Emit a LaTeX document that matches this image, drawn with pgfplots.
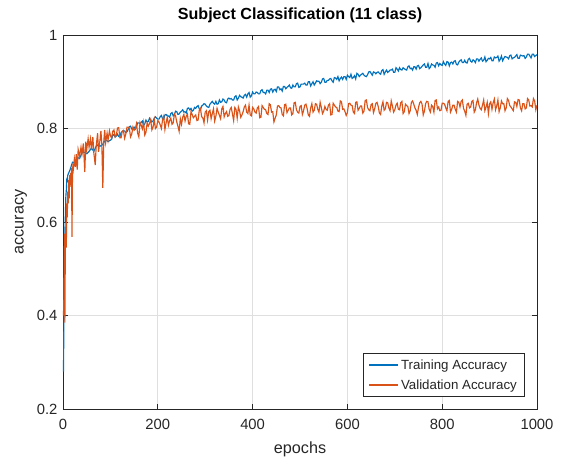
\documentclass[border=0pt]{standalone}
\usepackage{pgfplots}
\pgfplotsset{compat=1.18}
\usepackage{fontspec}
\setmainfont{Liberation Sans}
\definecolor{mblue}{RGB}{0,114,189}
\definecolor{morange}{RGB}{217,83,25}
\definecolor{maxis}{RGB}{38,38,38}
\definecolor{mgrid}{RGB}{223,223,223}
\begin{document}
\begin{tikzpicture}[x=1pt,y=1pt]
\useasboundingbox (0,0) rectangle (570,460);
\begin{axis}[
  at={(63pt,51pt)}, anchor=south west,
  scale only axis, width=474pt, height=374pt,
  xmin=0, xmax=1000, ymin=0.2, ymax=1,
  xtick={0,200,400,600,800,1000},
  xticklabels={0,200,400,600,800,1000},
  ytick={0.2,0.4,0.6,0.8,1},
  yticklabels={0.2,0.4,0.6,0.8,1},
  grid=major,
  major grid style={mgrid, line width=0.7pt},
  axis line style={maxis, line width=0.8pt},
  tick style={maxis, line width=0.8pt},
  tick align=inside, major tick length=5pt,
  xtick pos=both, ytick pos=both,
  tick label style={font=\fontsize{14.8}{16}\selectfont, text=maxis},
  xticklabel style={yshift=-7pt},
  yticklabel style={xshift=-2pt},
  xlabel={epochs}, ylabel={accuracy},
  label style={font=\fontsize{16.2}{18}\selectfont, text=maxis},
  xlabel style={at={(axis description cs:0.5,0)}, anchor=center, yshift=-40pt},
  ylabel style={at={(axis description cs:0,0.5)}, anchor=center, yshift=42pt},
  title={Subject Classification (11 class)},
  title style={font=\bfseries\fontsize{16.1}{18}\selectfont, text=black,
    at={(axis description cs:0.5,1)}, anchor=center, yshift=14pt},
  legend style={at={(0.973,0.032)}, anchor=south east, draw=maxis, line width=0.7pt,
    font=\fontsize{13.3}{15}\selectfont, row sep=5pt, inner xsep=5pt, inner ysep=4pt,
    text=maxis},
  legend cell align=left,
  legend image code/.code={\draw[#1, line width=1.3pt] (0pt,0pt) -- (29pt,0pt);},
]
\addplot[mblue, line width=1.15pt] coordinates {
(1,0.280)(2,0.395)(3,0.505)(4,0.575)(5,0.615)(6,0.655)(7,0.668)(8,0.690)(9,0.688)
(10,0.700)(15,0.712)(20,0.728)(25,0.727)(30,0.738)(35,0.736)(40,0.748)(45,0.749)(50,0.746)
(55,0.751)(60,0.758)(65,0.751)(70,0.762)(75,0.766)(80,0.762)(85,0.768)(90,0.776)(95,0.772)
(100,0.775)(102.5,0.777)(105,0.785)(107.5,0.787)(110,0.782)(112.5,0.784)(115,0.788)(117.5,0.783)
(120,0.783)(122.5,0.791)(125,0.794)(127.5,0.795)(130,0.795)(132.5,0.791)(135,0.793)(137.5,0.798)
(140,0.804)(142.5,0.805)(145,0.799)(147.5,0.800)(150,0.803)(152.5,0.799)(155,0.804)(157.5,0.812)
(160,0.812)(162.5,0.810)(165,0.813)(167.5,0.816)(170,0.806)(172.5,0.810)(175,0.818)(177.5,0.814)
(180,0.815)(182.5,0.822)(185,0.818)(187.5,0.814)(190,0.816)(192.5,0.822)(195,0.825)(197.5,0.822)
(200,0.820)(202.5,0.820)(205,0.825)(207.5,0.828)(210,0.821)(212.5,0.820)(215,0.829)(217.5,0.830)
(220,0.827)(222.5,0.827)(225,0.824)(227.5,0.832)(230,0.834)(232.5,0.827)(235,0.830)(237.5,0.837)
(240,0.836)(242.5,0.830)(245,0.831)(247.5,0.835)(250,0.837)(252.5,0.840)(255,0.835)(257.5,0.836)
(260,0.833)(262.5,0.843)(265,0.844)(267.5,0.840)(270,0.843)(272.5,0.837)(275,0.839)(277.5,0.845)
(280,0.843)(282.5,0.847)(285,0.849)(287.5,0.842)(290,0.840)(292.5,0.848)(295,0.850)(297.5,0.853)
(300,0.852)(302.5,0.848)(305,0.846)(307.5,0.845)(310,0.852)(312.5,0.855)(315,0.858)(317.5,0.854)
(320,0.852)(322.5,0.858)(325,0.852)(327.5,0.853)(330,0.861)(332.5,0.856)(335,0.857)(337.5,0.863)
(340,0.861)(342.5,0.856)(345,0.855)(347.5,0.863)(350,0.865)(352.5,0.863)(355,0.864)(357.5,0.861)
(360,0.861)(362.5,0.868)(365,0.870)(367.5,0.861)(370,0.865)(372.5,0.871)(375,0.868)(377.5,0.867)
(380,0.865)(382.5,0.871)(385,0.873)(387.5,0.867)(390,0.874)(392.5,0.877)(395,0.867)(397.5,0.870)
(400,0.878)(402.5,0.874)(405,0.874)(407.5,0.878)(410,0.877)(412.5,0.874)(415,0.874)(417.5,0.881)
(420,0.883)(422.5,0.877)(425,0.877)(427.5,0.874)(430,0.882)(432.5,0.882)(435,0.877)(437.5,0.884)
(440,0.885)(442.5,0.878)(445,0.883)(447.5,0.884)(450,0.879)(452.5,0.889)(455,0.889)(457.5,0.883)
(460,0.885)(462.5,0.880)(465,0.890)(467.5,0.890)(470,0.885)(472.5,0.888)(475,0.890)(477.5,0.893)
(480,0.887)(482.5,0.886)(485,0.893)(487.5,0.889)(490,0.889)(492.5,0.896)(495,0.897)(497.5,0.888)
(500,0.889)(502.5,0.895)(505,0.895)(507.5,0.895)(510,0.897)(512.5,0.893)(515,0.893)(517.5,0.900)
(520,0.900)(522.5,0.891)(525,0.896)(527.5,0.900)(530,0.893)(532.5,0.897)(535,0.902)(537.5,0.901)
(540,0.901)(542.5,0.896)(545,0.899)(547.5,0.906)(550,0.907)(552.5,0.899)(555,0.899)(557.5,0.903)
(560,0.903)(562.5,0.906)(565,0.907)(567.5,0.902)(570,0.899)(572.5,0.909)(575,0.908)(577.5,0.905)
(580,0.911)(582.5,0.902)(585,0.907)(587.5,0.910)(590,0.905)(592.5,0.911)(595,0.911)(597.5,0.905)
(600,0.914)(602.5,0.911)(605,0.909)(607.5,0.916)(610,0.907)(612.5,0.909)(615,0.913)(617.5,0.906)
(620,0.918)(622.5,0.916)(625,0.911)(627.5,0.914)(630,0.916)(632.5,0.918)(635,0.914)(637.5,0.912)
(640,0.911)(642.5,0.915)(645,0.921)(647.5,0.922)(650,0.918)(652.5,0.914)(655,0.921)(657.5,0.920)
(660,0.917)(662.5,0.920)(665,0.921)(667.5,0.918)(670,0.916)(672.5,0.924)(675,0.926)(677.5,0.916)
(680,0.921)(682.5,0.925)(685,0.920)(687.5,0.922)(690,0.925)(692.5,0.925)(695,0.927)(697.5,0.920)
(700,0.920)(702.5,0.930)(705,0.927)(707.5,0.923)(710,0.930)(712.5,0.926)(715,0.925)(717.5,0.930)
(720,0.928)(722.5,0.926)(725,0.925)(727.5,0.932)(730,0.934)(732.5,0.928)(735,0.929)(737.5,0.925)
(740,0.932)(742.5,0.932)(745,0.927)(747.5,0.934)(750,0.935)(752.5,0.928)(755,0.930)(757.5,0.933)
(760,0.936)(762.5,0.938)(765,0.931)(767.5,0.931)(770,0.939)(772.5,0.928)(775,0.931)(777.5,0.938)
(780,0.936)(782.5,0.935)(785,0.931)(787.5,0.940)(790,0.941)(792.5,0.934)(795,0.939)(797.5,0.936)
(800,0.935)(802.5,0.943)(805,0.938)(807.5,0.935)(810,0.943)(812.5,0.942)(815,0.934)(817.5,0.941)
(820,0.942)(822.5,0.938)(825,0.944)(827.5,0.945)(830,0.937)(832.5,0.936)(835,0.942)(837.5,0.945)
(840,0.947)(842.5,0.941)(845,0.941)(847.5,0.946)(850,0.941)(852.5,0.940)(855,0.948)(857.5,0.950)
(860,0.944)(862.5,0.942)(865,0.947)(867.5,0.945)(870,0.941)(872.5,0.949)(875,0.949)(877.5,0.944)
(880,0.948)(882.5,0.951)(885,0.944)(887.5,0.946)(890,0.953)(892.5,0.943)(895,0.946)(897.5,0.950)
(900,0.949)(902.5,0.952)(905,0.945)(907.5,0.945)(910,0.953)(912.5,0.951)(915,0.952)(917.5,0.955)
(920,0.944)(922.5,0.948)(925,0.955)(927.5,0.945)(930,0.950)(932.5,0.954)(935,0.953)(937.5,0.952)
(940,0.949)(942.5,0.956)(945,0.957)(947.5,0.949)(950,0.951)(952.5,0.952)(955,0.955)(957.5,0.958)
(960,0.950)(962.5,0.950)(965,0.957)(967.5,0.956)(970,0.955)(972.5,0.956)(975,0.950)(977.5,0.953)
(980,0.959)(982.5,0.959)(985,0.955)(987.5,0.951)(990,0.959)(992.5,0.959)(995,0.954)(997.5,0.956)
(1000,0.958)
};
\addlegendentry{Training Accuracy}
\addplot[morange, line width=1.15pt] coordinates {
(1,0.400)(2,0.445)(3,0.575)(4,0.385)(5,0.560)(6,0.590)(7,0.545)(8,0.640)(9,0.610)
(10,0.665)(11,0.640)(12,0.690)(13,0.650)(14,0.700)(15,0.675)(16,0.705)(17,0.690)(18,0.715)
(19,0.568)(20,0.700)(21,0.725)(22,0.715)(24,0.735)(26,0.718)(28,0.745)(30,0.712)(32,0.755)
(35,0.740)(38,0.760)(40,0.745)(43,0.768)(46,0.707)(48,0.772)(50,0.755)(53,0.778)(55,0.760)
(58,0.778)(60,0.755)(63,0.782)(65,0.748)(68,0.722)(70,0.762)(73,0.790)(75,0.750)(78,0.775)
(80,0.795)(82,0.765)(84,0.673)(86,0.772)(88,0.797)(90,0.770)(93,0.790)(95,0.775)(98,0.795)
(100,0.785)(102.5,0.779)(105,0.794)(107.5,0.797)(110,0.782)(112.5,0.786)(115,0.801)(117.5,0.802)
(120,0.780)(122.5,0.780)(125,0.794)(127.5,0.796)(130,0.779)(132.5,0.788)(135,0.803)(137.5,0.803)
(140,0.800)(142.5,0.782)(145,0.788)(147.5,0.803)(150,0.796)(152.5,0.799)(155,0.810)(157.5,0.790)
(160,0.782)(162.5,0.813)(165,0.807)(167.5,0.799)(170,0.813)(172.5,0.786)(175,0.792)(177.5,0.812)
(180,0.805)(182.5,0.811)(185,0.819)(187.5,0.797)(190,0.803)(192.5,0.819)(195,0.800)(197.5,0.803)
(200,0.817)(202.5,0.814)(205,0.808)(207.5,0.800)(210,0.818)(212.5,0.826)(215,0.798)(217.5,0.812)
(220,0.824)(222.5,0.807)(225,0.817)(227.5,0.822)(230,0.809)(232.5,0.812)(235,0.831)(237.5,0.827)
(240,0.814)(242.5,0.805)(245,0.794)(247.5,0.821)(250,0.809)(252.5,0.824)(255,0.830)(257.5,0.816)
(260,0.826)(262.5,0.831)(265,0.810)(267.5,0.809)(270,0.836)(272.5,0.830)(275,0.823)(277.5,0.826)
(280,0.829)(282.5,0.817)(285,0.818)(287.5,0.839)(290,0.843)(292.5,0.825)(295,0.823)(297.5,0.812)
(300,0.835)(302.5,0.838)(305,0.818)(307.5,0.836)(310,0.839)(312.5,0.821)(315,0.832)(317.5,0.842)
(320,0.816)(322.5,0.826)(325,0.843)(327.5,0.835)(330,0.828)(332.5,0.821)(335,0.842)(337.5,0.847)
(340,0.825)(342.5,0.832)(345,0.836)(347.5,0.826)(350,0.828)(352.5,0.841)(355,0.845)(357.5,0.831)
(360,0.817)(362.5,0.845)(365,0.841)(367.5,0.822)(370,0.846)(372.5,0.838)(375,0.824)(377.5,0.829)
(380,0.836)(382.5,0.846)(385,0.850)(387.5,0.835)(390,0.832)(392.5,0.850)(395,0.829)(397.5,0.827)
(400,0.845)(402.5,0.842)(405,0.835)(407.5,0.833)(410,0.844)(412.5,0.847)(415,0.823)(417.5,0.824)
(420,0.849)(422.5,0.845)(425,0.841)(427.5,0.840)(430,0.832)(432.5,0.830)(435,0.853)(437.5,0.851)
(440,0.835)(442.5,0.836)(445,0.814)(447.5,0.822)(450,0.829)(452.5,0.848)(455,0.849)(457.5,0.845)
(460,0.844)(462.5,0.830)(465,0.827)(467.5,0.851)(470,0.852)(472.5,0.834)(475,0.839)(477.5,0.844)
(480,0.844)(482.5,0.829)(485,0.832)(487.5,0.855)(490,0.856)(492.5,0.840)(495,0.835)(497.5,0.833)
(500,0.847)(502.5,0.849)(505,0.830)(507.5,0.838)(510,0.850)(512.5,0.852)(515,0.843)(517.5,0.829)
(520,0.826)(522.5,0.844)(525,0.853)(527.5,0.835)(530,0.839)(532.5,0.853)(535,0.852)(537.5,0.841)
(540,0.835)(542.5,0.856)(545,0.845)(547.5,0.832)(550,0.837)(552.5,0.847)(555,0.841)(557.5,0.839)
(560,0.850)(562.5,0.853)(565,0.829)(567.5,0.830)(570,0.854)(572.5,0.850)(575,0.846)(577.5,0.845)
(580,0.837)(582.5,0.836)(585,0.859)(587.5,0.857)(590,0.841)(592.5,0.842)(595,0.836)(597.5,0.828)
(600,0.834)(602.5,0.853)(605,0.854)(607.5,0.850)(610,0.849)(612.5,0.835)(615,0.832)(617.5,0.856)
(620,0.857)(622.5,0.839)(625,0.843)(627.5,0.848)(630,0.848)(632.5,0.833)(635,0.837)(637.5,0.860)
(640,0.861)(642.5,0.845)(645,0.840)(647.5,0.838)(650,0.851)(652.5,0.853)(655,0.834)(657.5,0.842)
(660,0.854)(662.5,0.856)(665,0.847)(667.5,0.833)(670,0.830)(672.5,0.848)(675,0.857)(677.5,0.839)
(680,0.842)(682.5,0.856)(685,0.855)(687.5,0.844)(690,0.838)(692.5,0.859)(695,0.848)(697.5,0.835)
(700,0.840)(702.5,0.850)(705,0.854)(707.5,0.841)(710,0.840)(712.5,0.855)(715,0.858)(717.5,0.832)
(720,0.836)(722.5,0.852)(725,0.849)(727.5,0.847)(730,0.832)(732.5,0.838)(735,0.856)(737.5,0.859)
(740,0.852)(742.5,0.844)(745,0.839)(747.5,0.830)(750,0.845)(752.5,0.855)(755,0.858)(757.5,0.852)
(760,0.829)(762.5,0.837)(765,0.853)(767.5,0.858)(770,0.857)(772.5,0.841)(775,0.835)(777.5,0.850)
(780,0.847)(782.5,0.835)(785,0.860)(787.5,0.861)(790,0.842)(792.5,0.846)(795,0.838)(797.5,0.839)
(800,0.854)(802.5,0.854)(805,0.852)(807.5,0.844)(810,0.838)(812.5,0.858)(815,0.860)(817.5,0.835)
(820,0.841)(822.5,0.850)(825,0.850)(827.5,0.841)(830,0.835)(832.5,0.858)(835,0.856)(837.5,0.846)
(840,0.858)(842.5,0.861)(845,0.843)(847.5,0.837)(850,0.828)(852.5,0.852)(855,0.854)(857.5,0.844)
(860,0.846)(862.5,0.858)(865,0.860)(867.5,0.835)(870,0.840)(872.5,0.855)(875,0.863)(877.5,0.850)
(880,0.843)(882.5,0.840)(885,0.850)(887.5,0.861)(890,0.838)(892.5,0.846)(895,0.856)(897.5,0.832)
(900,0.853)(902.5,0.857)(905,0.841)(907.5,0.855)(910,0.863)(912.5,0.840)(915,0.848)(917.5,0.861)
(920,0.836)(922.5,0.844)(925,0.859)(927.5,0.853)(930,0.853)(932.5,0.838)(935,0.844)(937.5,0.864)
(940,0.860)(942.5,0.849)(945,0.846)(947.5,0.842)(950,0.838)(952.5,0.857)(955,0.856)(957.5,0.847)
(960,0.862)(962.5,0.861)(965,0.844)(967.5,0.838)(970,0.853)(972.5,0.853)(975,0.842)(977.5,0.844)
(980,0.864)(982.5,0.861)(985,0.848)(987.5,0.849)(990,0.846)(992.5,0.864)(995,0.859)(997.5,0.840)
(1000,0.850)
};
\addlegendentry{Validation Accuracy}
\end{axis}
\end{tikzpicture}
\end{document}
